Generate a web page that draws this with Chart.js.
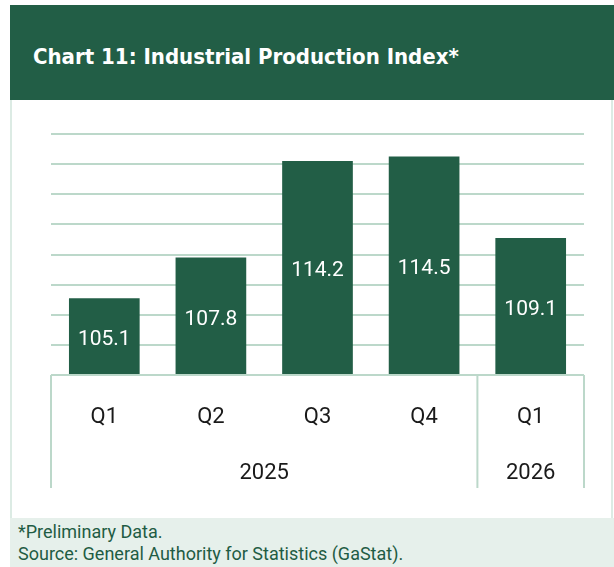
<!DOCTYPE html>
<html>
<head>
<meta charset="utf-8">
<title>Industrial Production Index</title>
<script src="https://cdn.jsdelivr.net/npm/chart.js@4.4.1/dist/chart.umd.min.js"></script>
<style>
    body { margin: 0; width: 614px; height: 567px; background: #fff; position: relative; overflow: hidden; font-family: Roboto, sans-serif; }
    #header { position: absolute; left: 10px; top: 5px; width: 604px; height: 95px; background: #225e46; }
    #header h1 { margin: 0; position: absolute; left: 23px; top: 37px; color: #fff; font: bold 22px 'DejaVu Sans Condensed', Roboto, sans-serif; line-height: 30px; }
    #panel { position: absolute; left: 10px; top: 100px; width: 603px; height: 418px; box-sizing: border-box; border-left: 2px solid #dcebe4; border-right: 2px solid #dcebe4; }
    #chartBox { position: absolute; left: 12px; top: 102px; width: 598px; height: 414px; }
    #footer { position: absolute; left: 10px; top: 518px; width: 604px; height: 49px; background: #e6f0eb; color: #1f5c44; font: 18px Roboto, sans-serif; line-height: 22px; padding: 3px 0 0 8px; box-sizing: border-box; }
</style>
</head>
<body>
<div id="header"><h1>Chart 11: Industrial Production Index*</h1></div>
<div id="panel"></div>
<div id="chartBox"><canvas id="chartIPI"></canvas></div>
<div id="footer">*Preliminary Data.<br>Source: General Authority for Statistics (GaStat).</div>

<script>
// Datos
const trimestres = ['Q1', 'Q2', 'Q3', 'Q4', 'Q1'];
const anios = ['2025', '2025', '2025', '2025', '2026'];
const valores = [105.1, 107.8, 114.2, 114.5, 109.1];
const yMin = 100;
const yMax = 116;
const yPaso = 2;

const verde = '#225e46';
const lineaClara = '#bcd8ca';

// Etiquetas de valor, trimestres y caja de años
const etiquetasPlugin = {
    id: 'etiquetas',
    afterDraw(chart) {
        const ctx = chart.ctx;
        const xs = chart.scales.x;
        const ys = chart.scales.y;
        const area = chart.chartArea;
        const base = ys.getPixelForValue(yMin);
        const paso = (area.right - area.left) / trimestres.length;

        ctx.save();
        ctx.textAlign = 'center';
        ctx.textBaseline = 'middle';

        // valores dentro de las barras
        ctx.fillStyle = '#fff';
        ctx.font = '21px Roboto';
        valores.forEach((v, i) => {
            const top = ys.getPixelForValue(v);
            ctx.fillText(v.toFixed(1), xs.getPixelForValue(i), (top + base) / 2 + 3);
        });

        ctx.strokeStyle = lineaClara;
        ctx.lineWidth = 2;
        ctx.beginPath();
        ctx.moveTo(area.left, base);
        ctx.lineTo(area.right, base);
        ctx.stroke();

        ctx.fillStyle = '#1a1a1a';
        ctx.font = '22px Roboto';
        trimestres.forEach((q, i) => {
            ctx.fillText(q, xs.getPixelForValue(i), base + 42);
        });

        // agrupar años consecutivos
        let inicio = 0;
        for (let i = 1; i <= anios.length; i++) {
            if (i === anios.length || anios[i] !== anios[inicio]) {
                const x0 = xs.getPixelForValue(inicio) - paso / 2;
                const x1 = xs.getPixelForValue(i - 1) + paso / 2;
                ctx.beginPath();
                ctx.moveTo(x0, base);
                ctx.lineTo(x0, base + 113);
                ctx.stroke();
                if (i === anios.length) {
                    ctx.beginPath();
                    ctx.moveTo(x1, base);
                    ctx.lineTo(x1, base + 113);
                    ctx.stroke();
                }
                ctx.fillText(anios[inicio], (x0 + x1) / 2, base + 98);
                inicio = i;
            }
        }
        ctx.restore();
    }
};

new Chart(document.getElementById('chartIPI').getContext('2d'), {
    type: 'bar',
    data: {
        labels: trimestres.map((q, i) => q + ' ' + anios[i]),
        datasets: [{
            data: valores,
            backgroundColor: verde,
            borderWidth: 0,
            categoryPercentage: 1,
            barPercentage: 0.663
        }]
    },
    options: {
        responsive: true,
        maintainAspectRatio: false,
        animation: false,
        layout: { padding: { left: 39, right: 26, top: 32, bottom: 141 } },
        plugins: {
            legend: { display: false },
            tooltip: { enabled: false }
        },
        scales: {
            x: { display: false },
            y: {
                min: yMin,
                max: yMax,
                ticks: { display: false, stepSize: yPaso },
                border: { display: false },
                grid: { color: lineaClara, lineWidth: 2, drawTicks: false }
            }
        }
    },
    plugins: [etiquetasPlugin]
});
</script>
</body>
</html>
